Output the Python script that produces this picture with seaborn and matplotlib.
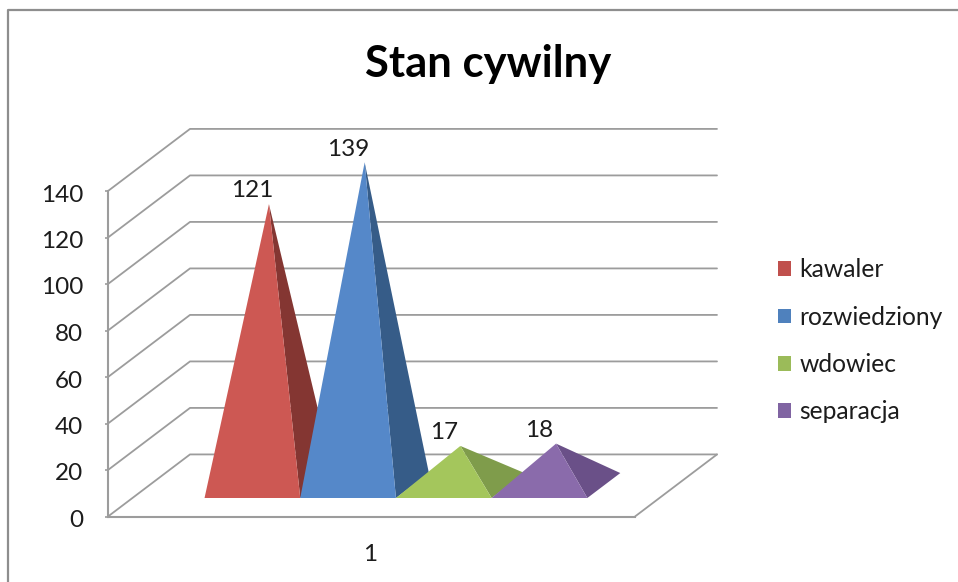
import matplotlib
matplotlib.use("Agg")
import matplotlib.pyplot as plt
from matplotlib.lines import Line2D
from matplotlib.patches import Patch
from matplotlib.transforms import ScaledTranslation
import seaborn as sns

categories = ["kawaler", "rozwiedziony", "wdowiec", "separacja"]
values = [121, 139, 17, 18]
y_ticks = [0, 20, 40, 60, 80, 100, 120, 140]
x_labels = ["1"]

FRONT = ["#CD5853", "#5588C9", "#A4C65C", "#8A6BAB"]
SIDE = ["#843632", "#365C88", "#7F9C4B", "#6A5088"]
LEGEND = ["#C0504D", "#4F81BD", "#9BBB59", "#8064A2"]
GRID = "#9C9C9C"
TEXT = "#1c1c1c"

W, H = 958, 582
# oblique projection of the chart box: how far the back wall is shifted
DX = 82 / 527      # in axis widths
DY = 26.7          # in value units
GAP = 0.1368       # floor margin left/right of the group
D0, D1 = 0.298, 0.70   # pyramid base, front and back (fraction of depth)

sns.set_theme(style="white")
plt.rcParams["font.family"] = ["Lato", "DejaVu Sans"]


def proj(u, depth=0.0, v=0.0):
    return u + depth * DX, v + depth * DY


fig = plt.figure(figsize=(W / 100, H / 100), dpi=100)
ax = fig.add_axes([108 / W, (H - 516.5) / H, 527 / W, 325.5 / H])
ax.set_xlim(0, 1)
ax.set_ylim(0, 140)
sns.despine(ax=ax)
for s in ("left", "bottom"):
    ax.spines[s].set_color(GRID)
    ax.spines[s].set_linewidth(1.5)

# walls and floor
for t in y_ticks:
    pts = [proj(0, 0, t), proj(0, 1, t), proj(1, 1, t)]
    ax.plot(*zip(*pts), color=GRID, lw=1.3, clip_on=False, zorder=1)
ax.plot(*zip(proj(1, 0, 0), proj(1, 1, 0)), color=GRID, lw=1.3, clip_on=False, zorder=1)

# pyramids, drawn left to right so each one covers the previous side face
bw = (1 - 2 * GAP) / len(values)
for i, val in enumerate(values):
    left = GAP + i * bw
    right = left + bw
    apex = proj((left + right) / 2, 0.5, val)
    ax.fill(*zip(proj(right, D0), proj(right, D1), apex), color=SIDE[i], lw=0,
            clip_on=False, zorder=2 + i)
    ax.fill(*zip(proj(left, D0), proj(right, D0), apex), color=FRONT[i], lw=0,
            clip_on=False, zorder=2 + i)
    ax.annotate(str(val), apex, xytext=(-12, 2), textcoords="offset points",
                ha="center", va="bottom", fontsize=17.5, color=TEXT,
                annotation_clip=False, zorder=10)

ax.set_yticks(y_ticks)
ax.set_xticks([0.497], x_labels)
ax.tick_params(axis="y", left=True, length=2, width=1.2, color=GRID, pad=16,
               labelsize=17.5, labelcolor=TEXT)
ax.tick_params(axis="x", bottom=False, pad=13.5, labelsize=17.5, labelcolor=TEXT)
# y labels sit a little below their gridline in the original
shift = ScaledTranslation(0, -2 / 100, fig.dpi_scale_trans)
for lab in ax.get_yticklabels():
    lab.set_transform(lab.get_transform() + shift)

fig.text(488 / W, 1 - 64 / H, "Stan cywilny", ha="center", va="center",
         fontsize=31.4, fontweight="bold", color="#000000")

handles = [Patch(facecolor=c, edgecolor="none") for c in LEGEND]
fig.legend(handles, categories, loc="upper left",
           bbox_to_anchor=(771 / W, 1 - 251 / H), frameon=False,
           fontsize=17.7, labelcolor=TEXT, handlelength=0.53, handleheight=0.53,
           handletextpad=0.33, labelspacing=0.99, borderpad=0.3, borderaxespad=0)

# chart area border, runs off the right and bottom of the picture
fig.add_artist(Line2D([8 / W, 8 / W, 1], [0, 1 - 10 / H, 1 - 10 / H],
                      color="#8E8E8E", lw=1.6))

fig.savefig("out.png", dpi=100)
plt.close(fig)
